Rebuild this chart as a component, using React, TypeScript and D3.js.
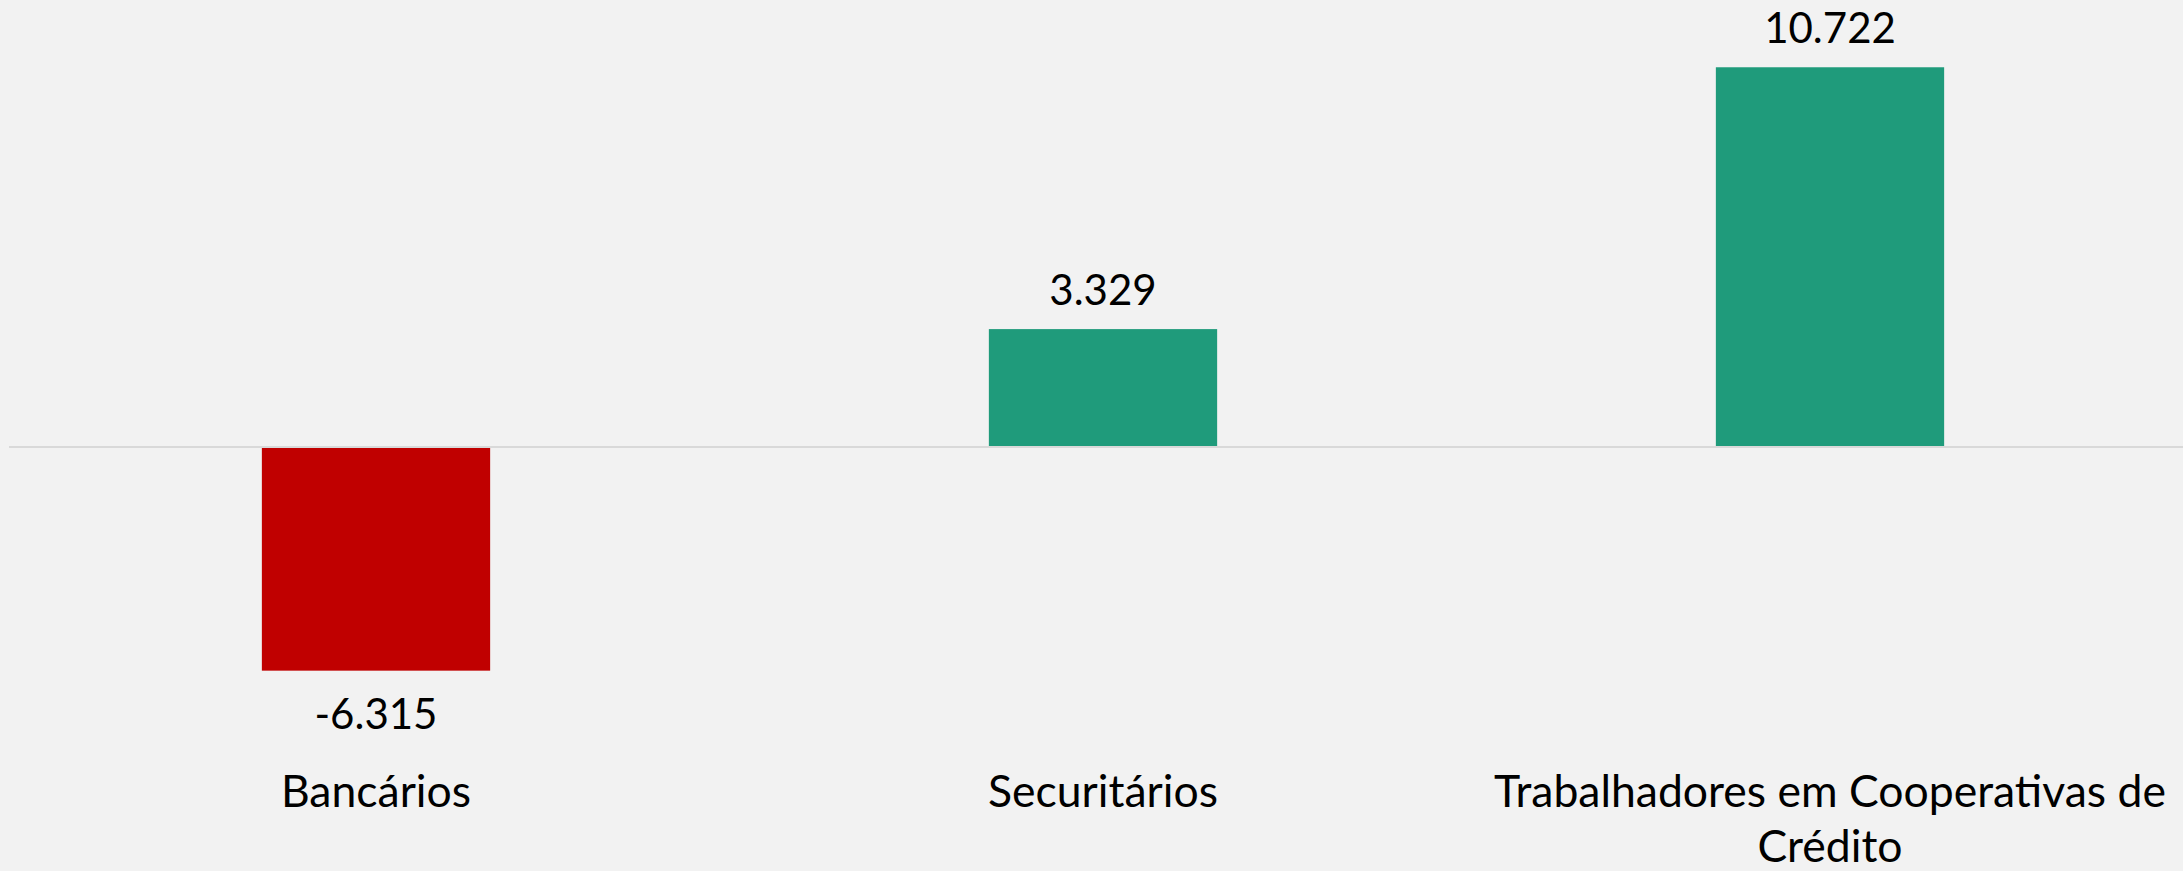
import React, { useEffect, useRef } from 'react';
import * as d3 from 'd3';

const categories = ['Bancários', 'Securitários', 'Trabalhadores em Cooperativas de Crédito'];
const values = [-6.315, 3.329, 10.722];
const valueLabels = ['-6.315', '3.329', '10.722'];

const width = 2183;
const height = 871;
const font = 'Lato, "Noto Sans", sans-serif';

function wrap(sel: any, maxWidth: number, lineHeight: number) {
  sel.each(function (this: SVGTextElement) {
    const text = d3.select(this);
    const words = text.text().split(/\s+/);
    const x = text.attr('x');
    text.text(null);
    let line: string[] = [];
    let tspan = text.append('tspan').attr('x', x);
    words.forEach((w) => {
      line.push(w);
      tspan.text(line.join(' '));
      if ((tspan.node() as SVGTSpanElement).getComputedTextLength() > maxWidth && line.length > 1) {
        line.pop();
        tspan.text(line.join(' '));
        line = [w];
        tspan = text.append('tspan').attr('x', x).attr('dy', lineHeight).text(w);
      }
    });
  });
}

export default function App() {
  const ref = useRef<SVGSVGElement>(null);

  useEffect(() => {
    const svg = d3.select(ref.current);
    svg.selectAll('*').remove();

    const x = d3.scaleBand<string>()
      .domain(categories)
      .range([12.5, 2193.5])
      .paddingInner(0.686)
      .paddingOuter(0.343);

    const y = d3.scaleLinear().domain([-12, 12]).range([872, 22]);

    svg.append('rect')
      .attr('width', width)
      .attr('height', height)
      .attr('fill', '#f2f2f2');

    const g = svg.append('g');

    g.selectAll('rect.bar')
      .data(values)
      .enter()
      .append('rect')
      .attr('class', 'bar')
      .attr('x', (d, i) => x(categories[i]) as number)
      .attr('width', x.bandwidth())
      .attr('y', (d) => y(Math.max(0, d)))
      .attr('height', (d) => Math.abs(y(d) - y(0)))
      .attr('fill', (d) => (d < 0 ? '#c00000' : '#1f9b7b'));

    g.append('line')
      .attr('x1', 9)
      .attr('x2', width)
      .attr('y1', y(0))
      .attr('y2', y(0))
      .attr('stroke', '#d9d9d9')
      .attr('stroke-width', 2);

    g.selectAll('text.value')
      .data(values)
      .enter()
      .append('text')
      .attr('class', 'value')
      .attr('x', (d, i) => (x(categories[i]) as number) + x.bandwidth() / 2)
      .attr('y', (d) => (d < 0 ? y(d) + 58 : y(d) - 24))
      .attr('text-anchor', 'middle')
      .attr('font-family', font)
      .attr('font-size', 42)
      .attr('fill', '#000')
      .text((d, i) => valueLabels[i]);

    g.selectAll('text.cat')
      .data(categories)
      .enter()
      .append('text')
      .attr('class', 'cat')
      .attr('x', (d) => (x(d) as number) + x.bandwidth() / 2)
      .attr('y', 807)
      .attr('text-anchor', 'middle')
      .attr('font-family', font)
      .attr('font-size', 44.5)
      .attr('fill', '#000')
      .text((d) => d)
      .call(wrap, 722, 55);
  }, []);

  return (
    <svg
      ref={ref}
      width={width}
      height={height}
      style={{ position: 'absolute', left: 0, top: 0, display: 'block' }}
    />
  );
}
